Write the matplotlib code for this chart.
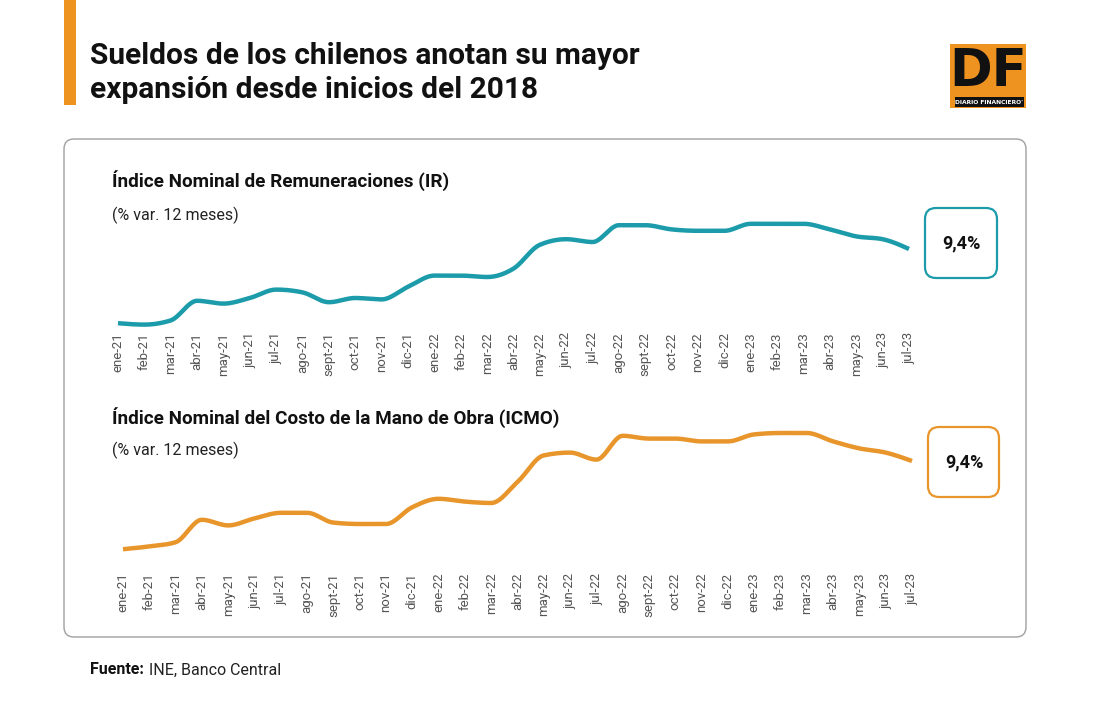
import numpy as np
import matplotlib
matplotlib.use("Agg")
import matplotlib.pyplot as plt
from matplotlib.patches import FancyBboxPatch, Rectangle

plt.rcParams['font.family'] = ['Roboto', 'DejaVu Sans']

# Datos (% var. 12 meses)
meses = ["ene-21", "feb-21", "mar-21", "abr-21", "may-21", "jun-21", "jul-21", "ago-21",
         "sept-21", "oct-21", "nov-21", "dic-21", "ene-22", "feb-22", "mar-22", "abr-22",
         "may-22", "jun-22", "jul-22", "ago-22", "sept-22", "oct-22", "nov-22", "dic-22",
         "ene-23", "feb-23", "mar-23", "abr-23", "may-23", "jun-23", "jul-23"]
ir = [4.1, 4.0, 4.3, 5.7, 5.5, 5.9, 6.5, 6.3, 5.6, 5.9, 5.8, 6.7, 7.5, 7.5, 7.4, 8.0,
      9.7, 10.1, 9.9, 11.1, 11.1, 10.8, 10.7, 10.7, 11.2, 11.2, 11.2, 10.8, 10.3, 10.1, 9.4]
icmo = [3.1, 3.3, 3.6, 5.2, 4.8, 5.3, 5.7, 5.7, 5.0, 4.9, 4.9, 6.1, 6.7, 6.5, 6.4, 7.9,
        9.8, 10.0, 9.5, 11.2, 11.0, 11.0, 10.8, 10.8, 11.3, 11.4, 11.4, 10.8, 10.3, 10.0, 9.4]
ultimo_ir = "9,4%"
ultimo_icmo = "9,4%"

TEAL = "#1C9BAA"
NARANJA = "#E8962B"
NARANJA_DF = "#EE9220"
GRIS = "#555555"

W, H = 1095, 720


def suavizar(y, n=24):
    # curva monótona (tipo d3 curveMonotoneX) entre los puntos
    y = np.asarray(y, dtype=float)
    x = np.arange(len(y), dtype=float)
    d = np.diff(y)
    m = np.zeros(len(y))
    s0, s1 = d[:-1], d[1:]
    p = (s0 + s1) / 2
    m[1:-1] = (np.sign(s0) + np.sign(s1)) * np.minimum(np.minimum(np.abs(s0), np.abs(s1)), 0.5 * np.abs(p))
    m[0] = (3 * d[0] - m[1]) / 2
    m[-1] = (3 * d[-1] - m[-2]) / 2
    xs, ys = [], []
    t = np.linspace(0, 1, n, endpoint=False)
    for i in range(len(y) - 1):
        h00 = 2 * t**3 - 3 * t**2 + 1
        h10 = t**3 - 2 * t**2 + t
        h01 = -2 * t**3 + 3 * t**2
        h11 = t**3 - t**2
        xs.append(x[i] + t)
        ys.append(h00 * y[i] + h10 * m[i] + h01 * y[i + 1] + h11 * m[i + 1])
    xs.append([x[-1]])
    ys.append([y[-1]])
    return np.concatenate(xs), np.concatenate(ys)


def ejes_px(fig, x0, x1, y_top, y_bot):
    return fig.add_axes([x0 / W, 1 - y_bot / H, (x1 - x0) / W, (y_bot - y_top) / H])


fig = plt.figure(figsize=(W / 100, H / 100), dpi=100)

# capa de fondo en coordenadas de píxel
bg = fig.add_axes([0, 0, 1, 1], zorder=0)
bg.set_xlim(0, W)
bg.set_ylim(H, 0)
bg.axis("off")

bg.add_patch(Rectangle((64, 0), 12, 105, color=NARANJA_DF, lw=0))
bg.text(90, 56, "Sueldos de los chilenos anotan su mayor", fontsize=21.5, fontweight="bold",
        va="center", ha="left", color="#111111")
bg.text(90, 90, "expansión desde inicios del 2018", fontsize=21.5, fontweight="bold",
        va="center", ha="left", color="#111111")

# logo DF
bg.add_patch(Rectangle((950, 44), 76, 64, color=NARANJA_DF, lw=0))
bg.add_patch(Rectangle((955, 97), 69, 10, color="#111111", lw=0))
bg.text(988, 72, "DF", fontsize=37, fontweight="bold", ha="center", va="center", color="#111111",
        family=["DejaVu Sans"])
bg.text(989, 102.5, "DIARIO FINANCIERO'", fontsize=4.3, fontweight="bold", ha="center", va="center",
        color="white", family=["DejaVu Sans"])

# recuadro principal
bg.add_patch(FancyBboxPatch((64, 139), 962, 498, boxstyle="round,pad=0,rounding_size=10",
                            fc="white", ec="#A0A0A0", lw=1))

bg.text(112, 181, "Índice Nominal de Remuneraciones (IR)", fontsize=13.6, fontweight="bold",
        va="center", ha="left", color="#111111")
bg.text(112, 215, "(% var. 12 meses)", fontsize=11.5, va="center", ha="left", color="#222222")
bg.text(112, 418, "Índice Nominal del Costo de la Mano de Obra (ICMO)", fontsize=13.6, fontweight="bold",
        va="center", ha="left", color="#111111")
bg.text(112, 450, "(% var. 12 meses)", fontsize=11.5, va="center", ha="left", color="#222222")

# cajas del último dato
bg.add_patch(FancyBboxPatch((925, 208), 72, 70, boxstyle="round,pad=0,rounding_size=11",
                            fc="white", ec=TEAL, lw=1.6))
bg.text(961, 243, ultimo_ir, fontsize=13, fontweight="bold", ha="center", va="center", color="#111111")
bg.add_patch(FancyBboxPatch((928, 427), 71, 70, boxstyle="round,pad=0,rounding_size=11",
                            fc="white", ec=NARANJA, lw=1.6))
bg.text(964, 462, ultimo_icmo, fontsize=13, fontweight="bold", ha="center", va="center", color="#111111")

# fuente
bg.text(90, 670, "Fuente:", fontsize=11.5, fontweight="bold", va="center", ha="left", color="#111111")
bg.text(149, 670, "INE, Banco Central", fontsize=11.5, va="center", ha="left", color="#222222")


def panel(x0, x1, y_top, y_bot, valores, color, escala_y, pad):
    ax = ejes_px(fig, x0, x1, y_top, y_bot)
    ax.set_zorder(2)
    ax.patch.set_alpha(0)
    xs, ys = suavizar(valores)
    ax.plot(xs, ys, color=color, lw=3.2, solid_capstyle="butt", clip_on=False)
    ax.set_xlim(0, len(valores) - 1)
    ax.set_ylim(*escala_y)
    ax.set_xticks(range(len(meses)))
    ax.set_xticklabels(meses, rotation=90, fontsize=9.5, color=GRIS)
    ax.tick_params(axis="x", length=0, pad=pad)
    ax.set_yticks([])
    for s in ax.spines.values():
        s.set_visible(False)
    return ax


# límites verticales elegidos para que las curvas caigan donde en el original
panel(118, 909, 224, 324, ir, TEAL, (9.4 - 75 / 14, 9.4 + 25 / 14), 6)
panel(123, 912, 433, 549, icmo, NARANJA, (9.4 - 88 / 14, 9.4 + 28 / 14), 17)

fig.savefig("out.png", dpi=100, facecolor="white")
